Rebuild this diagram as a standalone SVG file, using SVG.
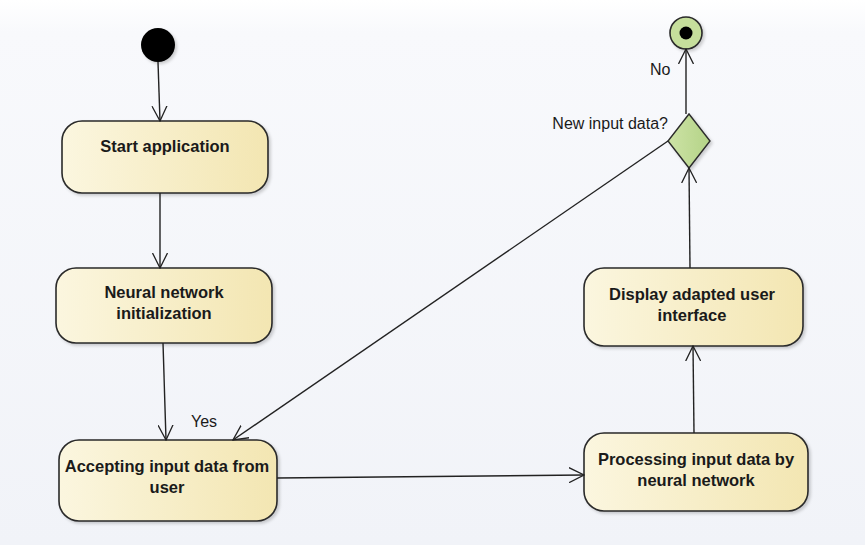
<svg xmlns="http://www.w3.org/2000/svg" width="865" height="545" viewBox="0 0 865 545">
  <defs>
    <linearGradient id="bg" x1="0" y1="0" x2="0" y2="1">
      <stop offset="0" stop-color="#ffffff"/>
      <stop offset="0.06" stop-color="#f8f9fc"/>
      <stop offset="1" stop-color="#f1f3f8"/>
    </linearGradient>
    <linearGradient id="act" x1="0" y1="0" x2="1" y2="0">
      <stop offset="0" stop-color="#fbf6df"/>
      <stop offset="1" stop-color="#f3e6b2"/>
    </linearGradient>
    <linearGradient id="dec" x1="0" y1="0" x2="1" y2="0">
      <stop offset="0" stop-color="#cde3a6"/>
      <stop offset="1" stop-color="#b4d387"/>
    </linearGradient>
    <filter id="shadow" x="-10%" y="-10%" width="130%" height="130%">
      <feDropShadow dx="2" dy="2" stdDeviation="1.5" flood-color="#000" flood-opacity="0.18"/>
    </filter>
    <marker id="open" viewBox="0 0 16 16" refX="15" refY="8" markerWidth="16" markerHeight="16" markerUnits="userSpaceOnUse" orient="auto">
      <path d="M0,0.5 L15,8 L0,15.5" fill="none" stroke="#222" stroke-width="1.3"/>
    </marker>
  </defs>
  <style>
    .box { fill: url(#act); stroke: #2a2a2a; stroke-width: 1.6; filter: url(#shadow); }
    .lbl { font-family: "Liberation Sans", Arial, sans-serif; font-size: 16.5px; font-weight: bold; fill: #1a1a1a; text-anchor: middle; }
    .note { font-family: "Liberation Sans", Arial, sans-serif; font-size: 16px; fill: #1a1a1a; }
    .edge { fill: none; stroke: #222; stroke-width: 1.4; marker-end: url(#open); }
  </style>

  <rect x="0" y="0" width="865" height="545" fill="url(#bg)"/>

  <!-- initial node -->
  <g id="initial">
    <circle cx="158" cy="45" r="17" fill="#000" filter="url(#shadow)"/>
  </g>

  <g id="start-application">
    <rect class="box" x="62" y="121" width="206" height="72" rx="20"/>
    <text class="lbl" x="165" y="152">Start application</text>
  </g>

  <g id="nn-init">
    <rect class="box" x="56" y="268" width="216" height="75" rx="20"/>
    <text class="lbl" x="164" y="298">Neural network</text>
    <text class="lbl" x="164" y="319">initialization</text>
  </g>

  <g id="accept-input">
    <rect class="box" x="59" y="440" width="218" height="81" rx="20"/>
    <text class="lbl" x="167" y="472">Accepting input data from</text>
    <text class="lbl" x="167" y="493">user</text>
  </g>

  <g id="process-input">
    <rect class="box" x="584" y="433" width="224" height="78" rx="20"/>
    <text class="lbl" x="696" y="465">Processing input data by</text>
    <text class="lbl" x="696" y="486">neural network</text>
  </g>

  <g id="display-ui">
    <rect class="box" x="584" y="268" width="219" height="78" rx="20"/>
    <text class="lbl" x="692" y="300">Display adapted user</text>
    <text class="lbl" x="692" y="321">interface</text>
  </g>

  <g id="decision">
    <polygon points="689,114 710,141 689,168 668,141" fill="url(#dec)" stroke="#2a2a2a" stroke-width="1.4" filter="url(#shadow)"/>
    <text class="note" x="668" y="129" text-anchor="end">New input data?</text>
  </g>

  <g id="final">
    <circle cx="686" cy="33" r="16" fill="#c6df9c" stroke="#2a2a2a" stroke-width="1.6" filter="url(#shadow)"/>
    <circle cx="686" cy="33" r="6.5" fill="#000"/>
  </g>

  <g id="connectors">
    <line class="edge" x1="158" y1="62" x2="160" y2="121"/>
    <line class="edge" x1="160" y1="193" x2="160" y2="268"/>
    <line class="edge" x1="163" y1="343" x2="166" y2="440"/>
    <line class="edge" x1="277" y1="478" x2="584" y2="475"/>
    <line class="edge" x1="694" y1="433" x2="693" y2="346"/>
    <line class="edge" x1="690" y1="268" x2="689" y2="168"/>
    <line class="edge" x1="686" y1="114" x2="686" y2="49"/>
    <line class="edge" x1="668" y1="141" x2="233" y2="440"/>
    <text class="note" x="191" y="427">Yes</text>
    <text class="note" x="650" y="75">No</text>
  </g>
</svg>
